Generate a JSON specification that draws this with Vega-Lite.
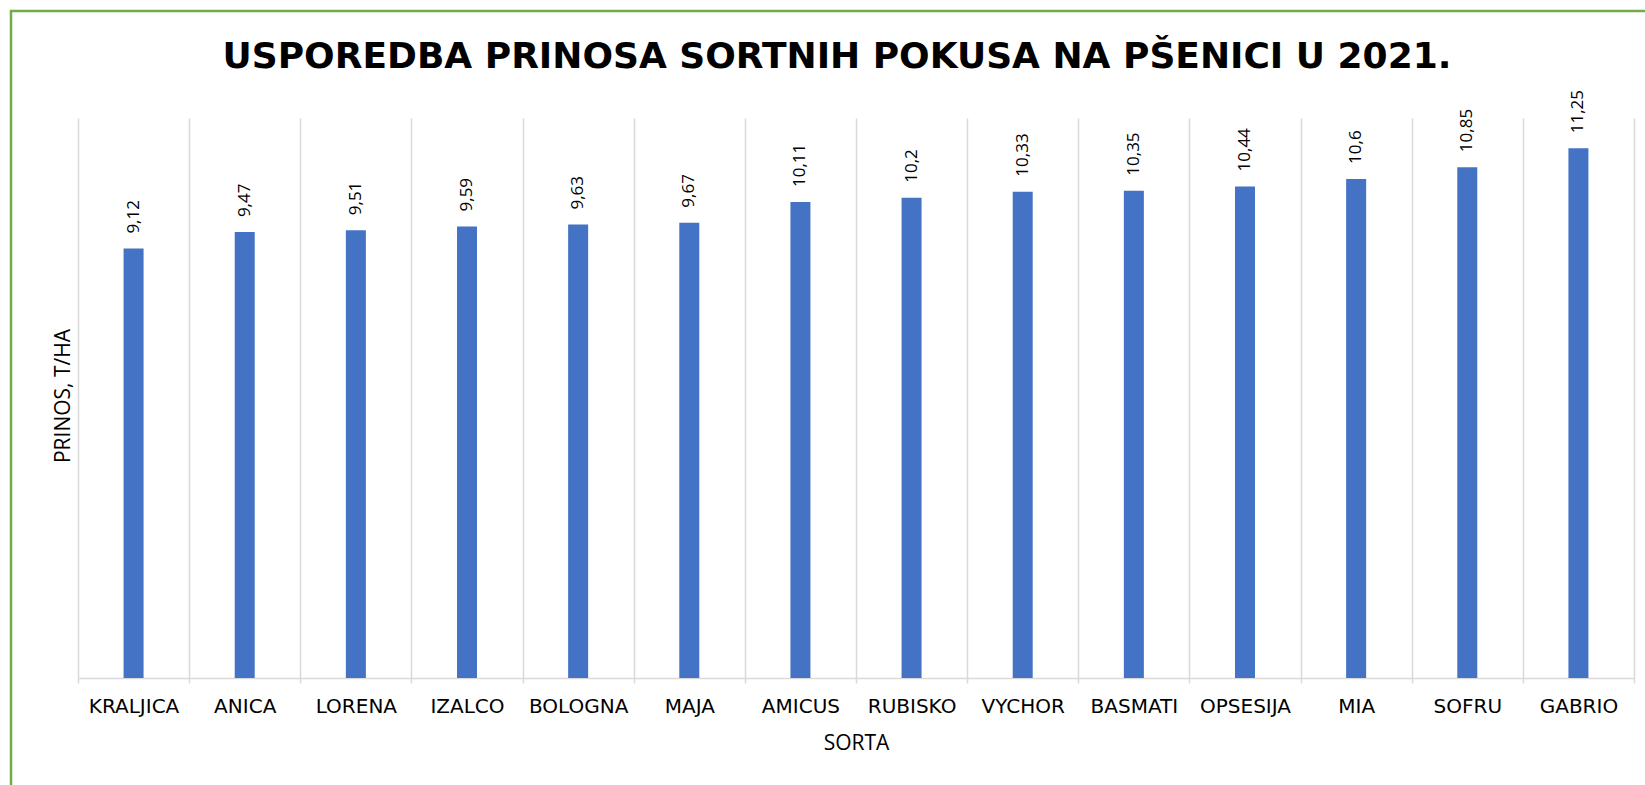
{
  "$schema": "https://vega.github.io/schema/vega-lite/v6.json",
  "autosize": {"type": "none"},
  "padding": {"left": 11, "top": 11, "right": 0, "bottom": 0},
  "width": 1634,
  "height": 774,
  "background": "#ffffff",
  "title": {
    "text": "USPOREDBA PRINOSA SORTNIH POKUSA NA PŠENICI U 2021.",
    "anchor": "middle",
    "frame": "group",
    "font": "DejaVu Sans",
    "fontSize": 36,
    "fontWeight": "bold",
    "color": "#000000",
    "baseline": "alphabetic",
    "offset": -58,
    "dx": 9,
    "dy": 35
  },
  "data": {
    "values": [
      {"sorta": "KRALJICA", "prinos": 9.12},
      {"sorta": "ANICA", "prinos": 9.47},
      {"sorta": "LORENA", "prinos": 9.51},
      {"sorta": "IZALCO", "prinos": 9.59},
      {"sorta": "BOLOGNA", "prinos": 9.63},
      {"sorta": "MAJA", "prinos": 9.67},
      {"sorta": "AMICUS", "prinos": 10.11},
      {"sorta": "RUBISKO", "prinos": 10.2},
      {"sorta": "VYCHOR", "prinos": 10.33},
      {"sorta": "BASMATI", "prinos": 10.35},
      {"sorta": "OPSESIJA", "prinos": 10.44},
      {"sorta": "MIA", "prinos": 10.6},
      {"sorta": "SOFRU", "prinos": 10.85},
      {"sorta": "GABRIO", "prinos": 11.25}
    ]
  },
  "encoding": {
    "x": {
      "field": "sorta",
      "type": "nominal",
      "sort": null,
      "scale": {"range": [67, 1623], "paddingInner": 0, "paddingOuter": 0},
      "axis": {
        "title": "SORTA",
        "orient": "bottom",
        "offset": -107,
        "labelAngle": 0,
        "labelFont": "DejaVu Sans",
        "labelFontSize": 20,
        "labelColor": "#000000",
        "labelPadding": 18,
        "labelLimit": 200,
        "ticks": false,
        "tickSize": 0,
        "tickBand": "extent",
        "grid": true,
        "gridColor": "#d9d9d9",
        "gridWidth": 1.5,
        "domain": true,
        "domainColor": "#d9d9d9",
        "domainWidth": 1.5,
        "titleFont": "Open Sans",
        "titleFontSize": 21,
        "titleFontWeight": "normal",
        "titleColor": "#000000",
        "titlePadding": 16
      }
    },
    "y": {
      "field": "prinos",
      "type": "quantitative",
      "scale": {"domain": [0, 12], "range": [667, 102], "nice": false, "zero": true},
      "axis": {
        "title": "PRINOS, T/HA",
        "offset": -67,
        "labels": false,
        "ticks": false,
        "grid": false,
        "domain": false,
        "titleFont": "Open Sans",
        "titleFontSize": 21,
        "titleFontWeight": "normal",
        "titleColor": "#000000",
        "titlePadding": 5
      }
    }
  },
  "layer": [
    {
      "mark": {"type": "bar", "color": "#4472C4", "width": {"band": 0.18}}
    },
    {
      "mark": {
        "type": "text",
        "angle": 270,
        "align": "left",
        "baseline": "middle",
        "dx": 15,
        "font": "Open Sans",
        "fontSize": 17,
        "color": "#000000"
      },
      "encoding": {
        "text": {"field": "prinos", "type": "quantitative", "format": "~g"}
      }
    }
  ],
  "config": {
    "locale": {
      "number": {"decimal": ",", "thousands": ".", "grouping": [3], "currency": ["", " €"]}
    },
    "view": {
      "stroke": "#70AD47",
      "strokeWidth": 2.5,
      "strokeDash": [1634, 2408, 774]
    }
  }
}
